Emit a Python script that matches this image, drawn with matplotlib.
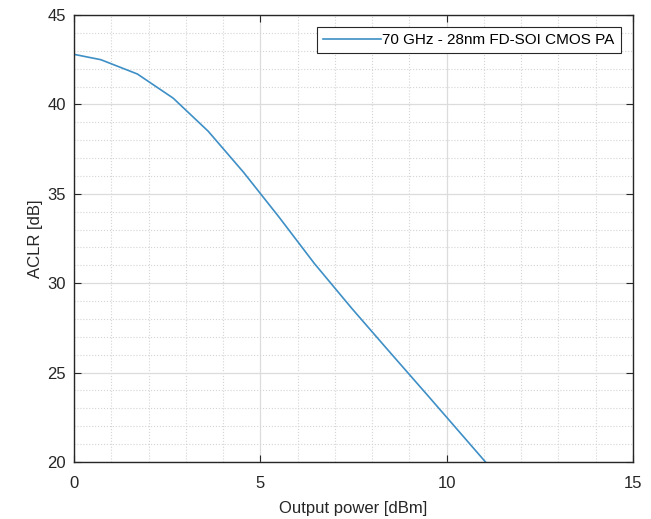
import matplotlib
matplotlib.use("Agg")
import matplotlib.pyplot as plt
from matplotlib.ticker import MultipleLocator

pout = [0.0, 0.72, 1.70, 2.66, 3.60, 4.55, 5.50, 6.45, 7.45, 8.45, 9.50, 10.50, 11.50]
aclr = [42.8, 42.5, 41.7, 40.35, 38.5, 36.2, 33.7, 31.1, 28.6, 26.2, 23.7, 21.3, 18.9]
label = "70 GHz - 28nm FD-SOI CMOS PA"

plt.rcParams['font.family'] = ['Liberation Sans', 'DejaVu Sans']

fig = plt.figure(figsize=(6.51, 5.19), dpi=100)
ax = fig.add_axes([0.1137, 0.1098, 0.8587, 0.8613])

ax.plot(pout, aclr, color='#3D8FC6', linewidth=1.2, label=label)

ax.set_xlim(0, 15)
ax.set_ylim(20, 45)
ax.xaxis.set_major_locator(MultipleLocator(5))
ax.yaxis.set_major_locator(MultipleLocator(5))
ax.xaxis.set_minor_locator(MultipleLocator(1))
ax.yaxis.set_minor_locator(MultipleLocator(1))

ax.grid(which='major', color='#dcdcdc', linestyle='-', linewidth=0.9)
ax.grid(which='minor', color='#d4d4d4', linestyle=':', linewidth=0.8)
ax.set_axisbelow(True)

for s in ax.spines.values():
    s.set_color('#262626')
    s.set_linewidth(1.0)

ax.tick_params(which='major', direction='in', length=5, top=True, right=True,
               labelsize=12, colors='#262626')
ax.tick_params(axis='x', which='major', pad=10)
ax.tick_params(axis='y', which='major', pad=6)
ax.tick_params(which='minor', length=0)

ax.set_xlabel("Output power [dBm]", fontsize=12, color='#262626', labelpad=7)
ax.set_ylabel("ACLR [dB]", fontsize=12, color='#262626', labelpad=3)

leg = ax.legend(loc='upper right', fontsize=11, handlelength=3.8,
                fancybox=False, framealpha=1, edgecolor='#262626',
                borderaxespad=0.8, borderpad=0.4, handletextpad=0.1)
leg.get_frame().set_linewidth(0.8)

fig.savefig("out.png", dpi=100)
